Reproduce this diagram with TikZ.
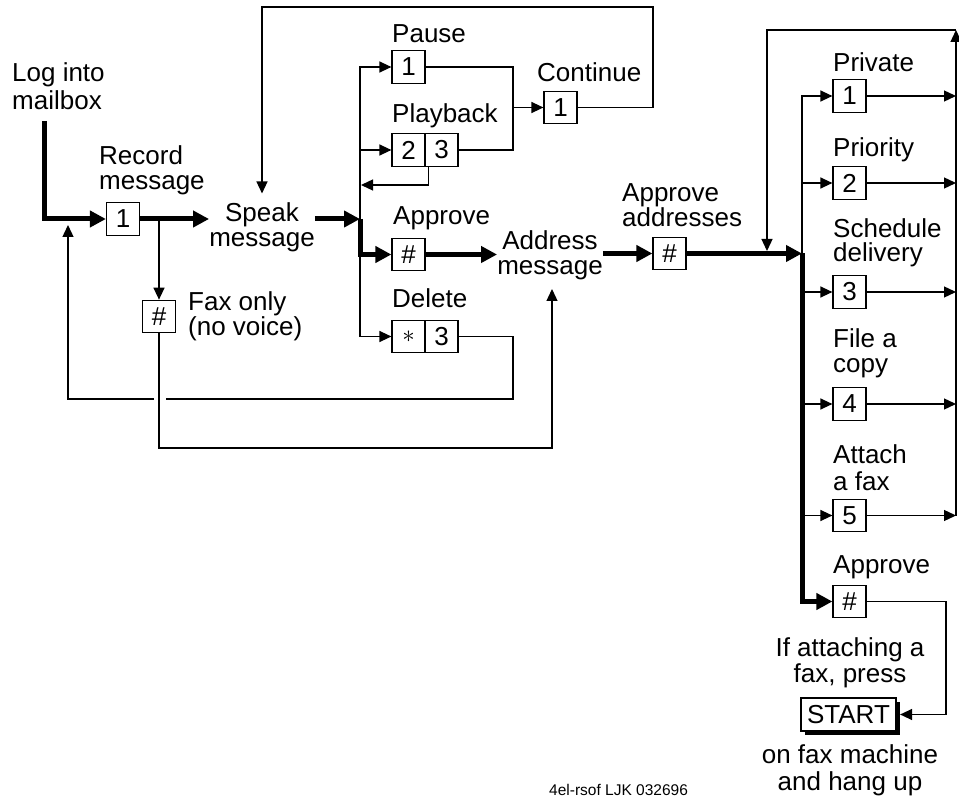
\documentclass[tikz,border=0pt]{standalone}
\usepackage{fontspec}
\setmainfont{Liberation Sans}
\usetikzlibrary{arrows.meta,shadows,calc}
\begin{document}
\begin{tikzpicture}[x=1pt,y=-1pt,
  every node/.style={font=\fontsize{26}{25.5}\selectfont, inner sep=0pt},
  lbl/.style={anchor=base west, align=left},
  clbl/.style={anchor=base, align=center},
  kbox/.style={draw, line width=1.2pt, minimum width=33pt, minimum height=32.5pt, fill=white},
  ln/.style={line width=1.3pt},
  lna/.style={ln, -{Triangle[length=12pt,width=11pt]}},
  tk/.style={line width=5pt},
  tka/.style={tk, -{Triangle[length=16pt,width=16pt]}},
]
\useasboundingbox (0,0) rectangle (959,799);

% ---- left part ----
\node[lbl, font=\fontsize{26}{28}\selectfont] (login) at (12,110) {Log into\\mailbox};
\coordinate (lstart) at (44,121);
\node[lbl] (reclbl) at (99,190) {Record\\message};
\node[kbox] (r1) at (123,219) {1};
\node[clbl] (speak) at (262,247) {Speak\\message};
\node[kbox] (fh) at (159,316.5) {\#};
\node[lbl, font=\fontsize{26}{23.5}\selectfont] (faxlbl) at (188,336) {Fax only\\(no voice)};
\coordinate (j1) at (360,219);

\node[lbl] (pauselbl) at (392,43) {Pause};
\node[kbox] (p1) at (408.5,67) {1};
\node[lbl] (pblbl) at (392,123) {Playback};
\node[kbox] (pb2) at (408.5,150) {2};
\node[kbox] (pb3) at (441.5,150) {3};
\node[lbl] (contlbl) at (537,82) {Continue};
\node[kbox] (c1) at (560.5,107.5) {1};
\coordinate (j2) at (513,107.5);
\coordinate (looptr) at (653,7);
\coordinate (pbret) at (361,185);

\node[lbl] (applbl) at (393,225) {Approve};
\node[kbox] (ah) at (408.5,254.5) {\#};
\node[clbl] (addr) at (550,275) {Address\\message};
\node[lbl] (dellbl) at (392,308) {Delete};
\node[kbox] (ds) at (408.5,336.5) {$\ast$};
\node[kbox] (d3) at (441.5,336.5) {3};
\coordinate (dl1) at (513,399);
\coordinate (gapr) at (166,399);
\coordinate (gapl) at (154,399);
\coordinate (dl2) at (68,399);
\coordinate (dtip1) at (68,225);
\coordinate (fb) at (159,448);
\coordinate (fbr) at (552,448);
\coordinate (addrtip) at (552,289);

% ---- right part ----
\node[lbl] (aalbl) at (622,227) {Approve\\addresses};
\node[kbox] (aah) at (669.5,253.5) {\#};
\coordinate (j3) at (802,253.5);
\coordinate (dtip2) at (767,251);
\coordinate (rtop) at (956,30);

\node[lbl] (privlbl) at (833,72) {Private};
\node[kbox] (pr1) at (849.5,96) {1};
\node[lbl] (priolbl) at (833,157) {Priority};
\node[kbox] (pri2) at (849.5,183) {2};
\node[lbl, font=\fontsize{26}{24}\selectfont] (schedlbl) at (833,262) {Schedule\\delivery};
\node[kbox] (sd3) at (849.5,292) {3};
\node[lbl] (filelbl) at (833,373) {File a\\copy};
\node[kbox] (fc4) at (849.5,404) {4};
\node[lbl, font=\fontsize{26}{27}\selectfont] (attlbl) at (833,490) {Attach\\a fax};
\node[kbox] (af5) at (849.5,515.5) {5};
\node[lbl] (aplbl2) at (833,573) {Approve};
\node[kbox] (aph) at (849.5,601.5) {\#};

\node[clbl] (iflbl) at (850,682) {If attaching a\\fax, press};
\node[kbox, minimum width=95pt, minimum height=33pt,
  drop shadow={shadow xshift=3.5pt, shadow yshift=-3.5pt, opacity=1, fill=black}] (start) at (848.5,714.5) {START};
\coordinate (sr) at (946,714.5);
\node[clbl, font=\fontsize{26}{27}\selectfont] (onlbl) at (850,790) {on fax machine\\and hang up};
\node[anchor=base west, font=\fontsize{15.5}{16}\selectfont] (code) at (549,795) {4el-rsof LJK 032696};

% ---- connectors ----
\draw[tka] (lstart) |- (r1.west);
\draw[tka] (r1.east) -- (r1.east -| speak.west);
\draw[lna] (fh.north |- r1.east) -- (fh.north);
\draw[tka] (speak.east |- r1.east) -- (j1);
\draw[lna] (j1) |- (p1.west);
\draw[lna] (j1) |- (pb2.west);
\draw[lna] (j1) |- (ds.west);
\draw[tka] (j1) |- (ah.west);
\draw[lna] ([xshift=4pt]pb3.south west) |- (pbret);
\draw[ln] (p1.east) -| (j2);
\draw[ln] (pb3.east) -| (j2);
\draw[lna] (j2) -- (c1.west);
\draw[lna] (c1.east) -| (looptr) -| ([yshift=9pt]speak.north);
\draw[tka] (ah.east) -- (ah.east -| addr.west);
\draw[tka] (addr.east |- aah.west) -- (aah.west);
\draw[ln] (d3.east) -| (dl1) -- (gapr);
\draw[lna] (gapl) -- (dl2) -- (dtip1);
\draw[lna] (fh.south) -- (fb) -- (fbr) -- (addrtip);

\draw[tka] (aah.east) -- (j3);
\foreach \b in {pr1,pri2,sd3,fc4,af5} {
  \draw[lna] (j3) |- (\b.west);
  \draw[lna] (\b.east) -- (\b.east -| rtop);
}
\draw[tka] (j3) |- (aph.west);
\draw[lna] (rtop |- af5.east) -- (rtop);
\draw[lna] (rtop) -| (dtip2);
\draw[lna] (aph.east) -| (sr) -- ([xshift=3.5pt]start.east);
\end{tikzpicture}
\end{document}
